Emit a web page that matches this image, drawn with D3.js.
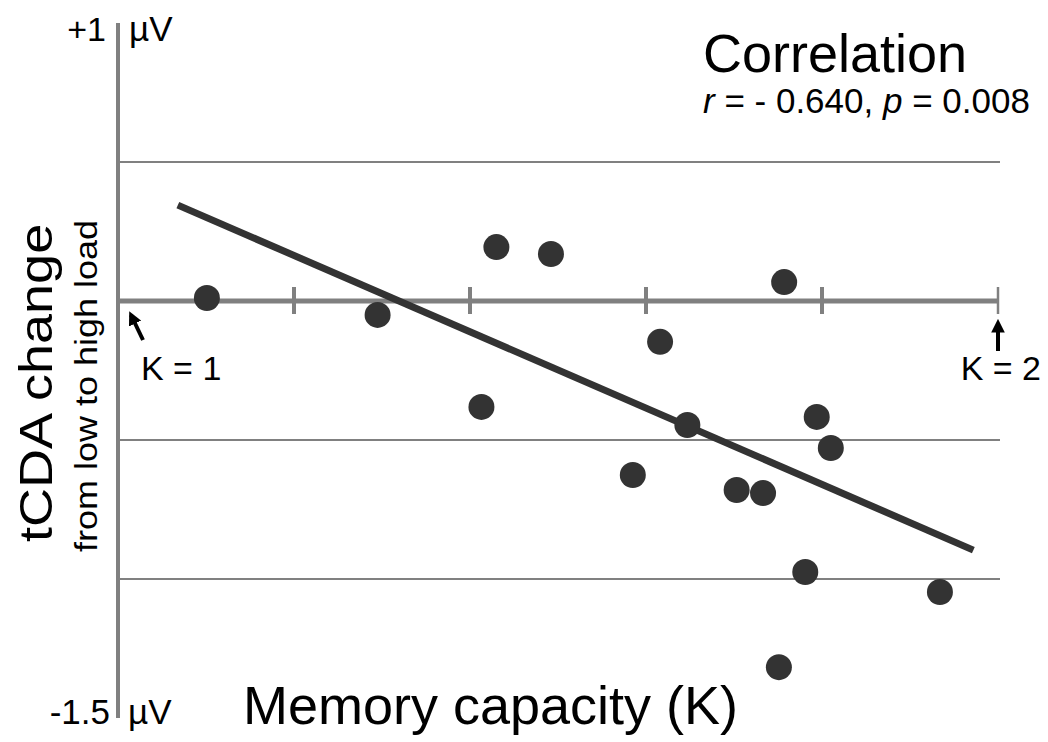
<!DOCTYPE html>
<html>
<head>
<meta charset="utf-8">
<script src="https://cdn.jsdelivr.net/npm/d3@7"></script>
<style>
  html, body { margin: 0; padding: 0; background: #fff; }
  svg { display: block; font-family: "Liberation Sans", Arial, sans-serif; }
</style>
</head>
<body>
<svg id="chart" width="1048" height="742"></svg>
<script>
// memory capacity (K) per subject
var capacity = [1.101, 1.295, 1.430, 1.492, 1.413, 1.616, 1.647, 1.585,
  1.703, 1.733, 1.757, 1.794, 1.810, 1.781, 1.751, 1.934];
// tCDA change from low to high load (µV)
var tcdaChange = [0.011, -0.050, 0.194, 0.169, -0.381, -0.147, -0.446, -0.626,
  -0.680, -0.691, 0.068, -0.417, -0.529, -0.975, -1.317, -1.047];
// regression line end points
var fitK = [1.068, 1.972];
var fitV = [0.345, -0.896];
var gridValues = [0.5, -0.5, -1];
var kTicks = [1.2, 1.4, 1.6, 1.8, 2.0];

var grey = '#808080';
var dark = '#333333';

var svg = d3.select('#chart');

var x = d3.scaleLinear().domain([1, 2]).range([118, 998]);
var y = d3.scaleLinear().domain([-1.5, 1]).range([718, 23]);

// horizontal grid lines
svg.selectAll('line.grid')
  .data(gridValues)
  .enter()
  .append('line')
  .attr('class', 'grid')
  .attr('x1', x(1))
  .attr('x2', x(2) + 2)
  .attr('y1', function(d) { return y(d); })
  .attr('y2', function(d) { return y(d); })
  .style('stroke', grey)
  .style('stroke-width', 2);

// zero line with K ticks
svg.append('line')
  .attr('x1', x(1))
  .attr('x2', x(2))
  .attr('y1', y(0))
  .attr('y2', y(0))
  .style('stroke', grey)
  .style('stroke-width', 5);

svg.selectAll('line.ktick')
  .data(kTicks)
  .enter()
  .append('line')
  .attr('class', 'ktick')
  .attr('x1', function(d) { return x(d); })
  .attr('x2', function(d) { return x(d); })
  .attr('y1', y(0) - 14)
  .attr('y2', y(0) + 13)
  .style('stroke', grey)
  .style('stroke-width', function(d) { return d === 2 ? 2.5 : 4; });

// vertical axis
svg.append('line')
  .attr('x1', x(1))
  .attr('x2', x(1))
  .attr('y1', y(1))
  .attr('y2', y(-1.5))
  .style('stroke', grey)
  .style('stroke-width', 4);

// regression line
svg.append('line')
  .attr('x1', x(fitK[0]))
  .attr('y1', y(fitV[0]))
  .attr('x2', x(fitK[1]))
  .attr('y2', y(fitV[1]))
  .style('stroke', dark)
  .style('stroke-width', 7);

// subjects
svg.selectAll('circle.subject')
  .data(d3.zip(capacity, tcdaChange))
  .enter()
  .append('circle')
  .attr('class', 'subject')
  .attr('cx', function(d) { return x(d[0]); })
  .attr('cy', function(d) { return y(d[1]); })
  .attr('r', 13)
  .style('fill', dark);

// arrows marking K = 1 and K = 2
svg.append('defs').append('marker')
  .attr('id', 'head')
  .attr('viewBox', '0 0 10 10')
  .attr('refX', 7)
  .attr('refY', 5)
  .attr('markerWidth', 3.4)
  .attr('markerHeight', 3.4)
  .attr('orient', 'auto')
  .append('path')
  .attr('d', 'M0,0 L10,5 L0,10 z')
  .style('fill', '#000');

svg.append('line')
  .attr('x1', x(1) + 25).attr('y1', y(0) + 39)
  .attr('x2', x(1) + 13).attr('y2', y(0) + 14)
  .style('stroke', '#000').style('stroke-width', 4)
  .attr('marker-end', 'url(#head)');

svg.append('line')
  .attr('x1', x(2)).attr('y1', y(0) + 50)
  .attr('x2', x(2)).attr('y2', y(0) + 22)
  .style('stroke', '#000').style('stroke-width', 4)
  .attr('marker-end', 'url(#head)');

function label(text, px, py, size, anchor) {
  return svg.append('text')
    .attr('x', px)
    .attr('y', py)
    .attr('text-anchor', anchor || 'start')
    .style('font-size', size + 'px')
    .style('fill', '#000')
    .text(text);
}

label('K = 1', 141, 380, 34);
label('K = 2', 1041, 380, 34, 'end');
label('+1', 106, 41, 34, 'end');
label('\u00b5V', 129, 41, 35);
label('-1.5', 110, 724, 35, 'end');
label('\u00b5V', 128, 724, 35);
label('Memory capacity (K)', 243, 724, 54);
label('Correlation', 703, 72, 54);

var stats = label('', 703, 113, 35);
stats.append('tspan').style('font-style', 'italic').text('r');
stats.append('tspan').text(' = - 0.640, ');
stats.append('tspan').style('font-style', 'italic').text('p');
stats.append('tspan').text(' = 0.008');

// rotated y titles
svg.append('text')
  .attr('transform', 'translate(52,542) rotate(-90) scale(1,0.87)')
  .style('font-size', '54px')
  .text('tCDA change');

svg.append('text')
  .attr('transform', 'translate(97,552) rotate(-90) scale(1,0.86)')
  .style('font-size', '36px')
  .text('from low to high load');
</script>
</body>
</html>
